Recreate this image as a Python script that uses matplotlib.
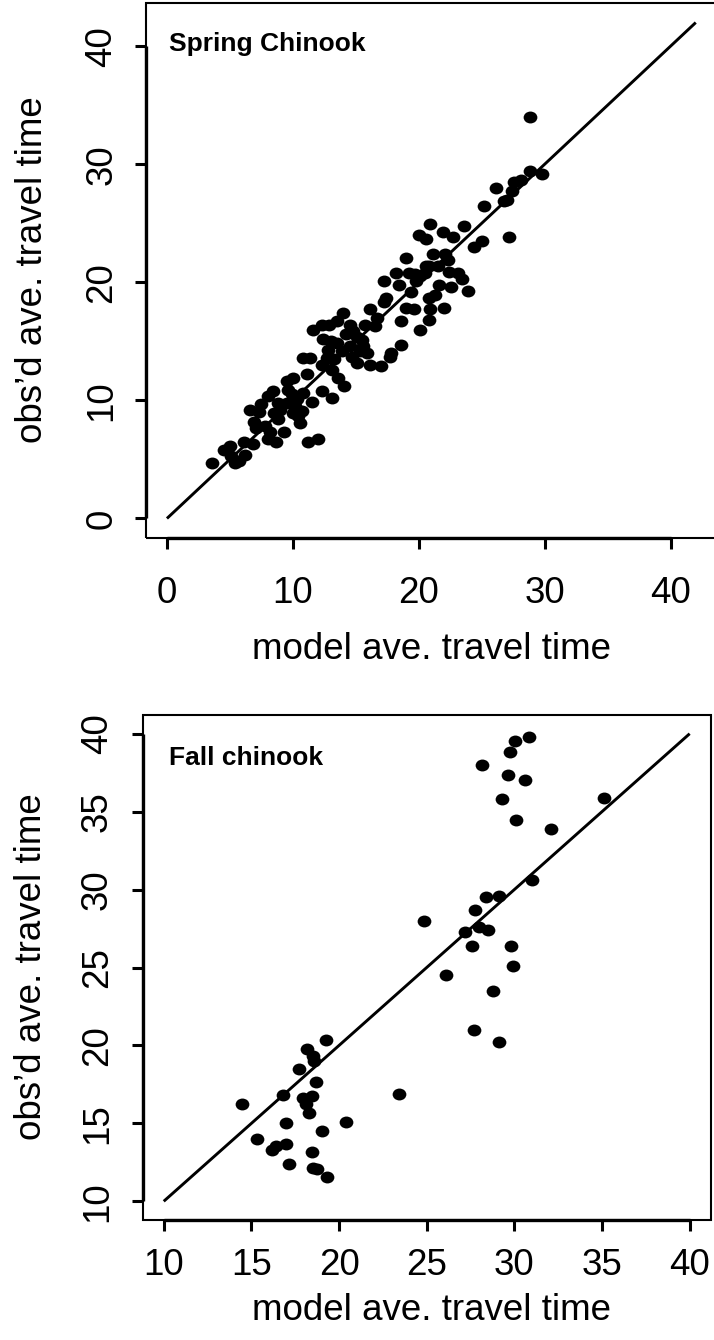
import matplotlib
matplotlib.use("Agg")
import matplotlib.pyplot as plt
from matplotlib.markers import MarkerStyle
from matplotlib.transforms import Affine2D
from matplotlib.patches import Rectangle

# ---------------- data ----------------
spring_model = [3.55, 4.5, 5.0, 5.1, 5.4, 5.7, 6.2, 6.1, 6.8, 6.6, 6.9, 7.1, 7.5, 7.8, 8.0, 8.0,
                8.2, 8.7, 8.4, 8.8, 8.8, 9.3, 9.5, 9.6, 9.5, 10.0, 10.0, 10.3, 10.4, 10.6, 10.7,
                10.8, 10.8, 11.4, 11.1, 11.5, 11.2, 12.0, 11.6, 12.3, 12.4, 12.3, 12.3, 12.9, 12.8,
                13.1, 13.1, 13.3, 13.5, 13.5, 13.6, 14.0, 14.1, 14.5, 14.5, 14.7, 15.1, 15.1, 15.6,
                15.7, 15.9, 16.1, 16.1, 16.5, 16.7, 17.0, 17.2, 17.4, 17.2, 17.7, 17.8, 18.2, 18.4,
                18.6, 18.6, 19.0, 19.2, 19.6, 19.4, 19.8, 20.1, 20.1, 20.5, 20.6, 20.8, 20.8, 20.9,
                9.0, 9.9, 10.2, 7.3, 8.5, 12.7, 13.9, 14.2, 15.3, 14.8, 15.5, 13.0,
                28.8, 28.8, 29.8, 28.1, 27.6, 27.4, 27.0, 26.8, 26.1, 25.2, 23.6, 20.9, 20.0, 21.9,
                22.7, 20.6, 25.0, 24.4, 27.2, 19.0, 21.1, 22.1, 22.3, 21.5, 20.8, 19.7, 22.4, 23.1,
                23.9, 22.6, 21.6, 22.0, 21.3, 23.4]
spring_obs = [4.7, 5.8, 6.1, 5.3, 4.7, 4.9, 5.4, 6.5, 6.3, 9.2, 8.2, 7.7, 9.7, 7.8, 6.7, 10.4,
              7.3, 6.5, 10.8, 9.8, 8.4, 7.3, 11.6, 10.9, 9.8, 11.9, 8.9, 10.1, 8.7, 8.1, 9.1,
              10.6, 13.6, 13.6, 12.2, 9.9, 6.5, 6.7, 16.0, 16.4, 15.2, 13.0, 10.8, 16.4, 14.3,
              12.6, 10.2, 13.5, 16.7, 14.9, 11.9, 17.4, 11.2, 16.4, 14.6, 13.7, 15.4, 13.2, 14.6,
              16.4, 14.0, 17.7, 13.0, 16.3, 17.0, 12.9, 18.3, 18.7, 20.1, 13.7, 14.0, 20.8, 19.8,
              16.7, 14.7, 17.8, 20.8, 17.7, 19.2, 20.1, 16.0, 20.5, 20.8, 21.4, 18.7, 16.8, 17.7,
              9.2, 10.5, 9.5, 9.0, 8.9, 13.6, 14.2, 15.6, 14.2, 15.9, 15.1, 15.0,
              34.0, 29.4, 29.2, 28.7, 28.5, 27.7, 27.0, 26.9, 28.0, 26.5, 24.8, 24.9, 24.0, 24.3,
              23.8, 23.7, 23.5, 23.0, 23.8, 22.1, 22.4, 22.4, 21.9, 21.4, 21.4, 20.7, 20.9, 20.8,
              19.3, 19.6, 19.8, 17.8, 18.9, 20.3]

fall_model = [30.84, 30.04, 29.76, 28.13, 29.64, 30.6, 29.28, 35.1, 30.08, 32.1, 30.99, 29.13,
              28.41, 27.77, 24.87, 27.18, 28.0, 28.52, 27.58, 29.83, 26.1, 29.9, 28.8, 27.7, 29.1,
              19.28, 18.15, 18.49, 18.56, 17.73, 18.66, 16.82, 23.41, 17.92, 18.43, 18.1, 14.45,
              18.3, 16.97, 20.42, 19.03, 15.34, 16.97, 16.4, 16.16, 18.43, 17.16, 18.49, 18.75, 19.34]
fall_obs = [39.8, 39.5, 38.85, 38.0, 37.35, 37.0, 35.8, 35.9, 34.47, 33.9, 30.6, 29.6,
            29.5, 28.7, 27.96, 27.27, 27.6, 27.4, 26.36, 26.4, 24.5, 25.1, 23.5, 21.0, 20.2,
            20.35, 19.8, 19.3, 19.0, 18.47, 17.68, 16.83, 16.87, 16.6, 16.76, 16.25, 16.25,
            15.65, 15.05, 15.08, 14.54, 13.99, 13.69, 13.52, 13.26, 13.16, 12.39, 12.14, 12.07, 11.56]

spring_line = [0, 42]
fall_line = [10, 40]
spring_ticks = [0, 10, 20, 30, 40]
fall_ticks = [10, 15, 20, 25, 30, 35, 40]
spring_lim = (-1.68, 43.68)
fall_lim = (8.8, 41.2)
xlabel = "model ave. travel time"
ylabel = "obs\u2019d ave. travel time"

# ---------------- figure ----------------
W, H = 714, 1340
fig = plt.figure(figsize=(W / 100, H / 100), dpi=100)
plt.rcParams['font.family'] = ['Liberation Sans', 'DejaVu Sans']

FS = 26.5
marker = MarkerStyle('o', transform=Affine2D().scale(1.12, 0.97))


def px_axes(l, r, t, b):
    return fig.add_axes([l / W, 1 - b / H, (r - l) / W, (b - t) / H])


def style(ax, lim, ticks, xpad, ypad):
    ax.set_xlim(*lim)
    ax.set_ylim(*lim)
    for s in ('top', 'right'):
        ax.spines[s].set_visible(False)
    for s in ('left', 'bottom'):
        ax.spines[s].set_linewidth(2.4)
        ax.spines[s].set_capstyle('butt')
        ax.spines[s].set_bounds(ticks[0], ticks[-1])
    ax.add_patch(Rectangle((0, 0), 1, 1, transform=ax.transAxes, fill=False,
                           lw=1.5, ec='black', clip_on=False, zorder=3))
    ax.set_xticks(ticks)
    ax.set_yticks(ticks)
    ax.tick_params(axis='both', direction='out', length=8, width=2.2, labelsize=FS,
                   colors='black')
    ax.tick_params(axis='x', pad=xpad)
    ax.tick_params(axis='y', pad=ypad, labelrotation=90)
    for lab in ax.get_yticklabels():
        lab.set_verticalalignment('center')


def ftext(x, y, s, **kw):
    fig.text(x / W, 1 - y / H, s, **kw)


# top panel
ax1 = px_axes(145.8, 716.9, 2.7, 538.3)
style(ax1, spring_lim, spring_ticks, 19.5, 11)
ax1.plot(spring_line, spring_line, color='black', lw=2.1, solid_capstyle='butt')
ax1.scatter(spring_model, spring_obs, s=78, marker=marker, color='black', linewidths=0, zorder=4)
ftext(169, 51, "Spring Chinook", fontsize=19, fontweight='bold', va='baseline', ha='left')

# bottom panel
ax2 = px_axes(142.7, 710.7, 715, 1220)
style(ax2, fall_lim, fall_ticks, 12.5, 12)
ax2.plot(fall_line, fall_line, color='black', lw=2.1, solid_capstyle='butt')
ax2.scatter(fall_model, fall_obs, s=78, marker=marker, color='black', linewidths=0, zorder=4)
ftext(169, 765, "Fall chinook", fontsize=19, fontweight='bold', va='baseline', ha='left')

# axis titles
ftext(432, 650, xlabel, fontsize=FS, ha='center', va='center')
ftext(432, 1311, xlabel, fontsize=FS, ha='center', va='center')
ftext(33, 270, ylabel, fontsize=FS, ha='center', va='center', rotation=90)
ftext(32, 967, ylabel, fontsize=FS, ha='center', va='center', rotation=90)

fig.savefig("out.png", dpi=100)
